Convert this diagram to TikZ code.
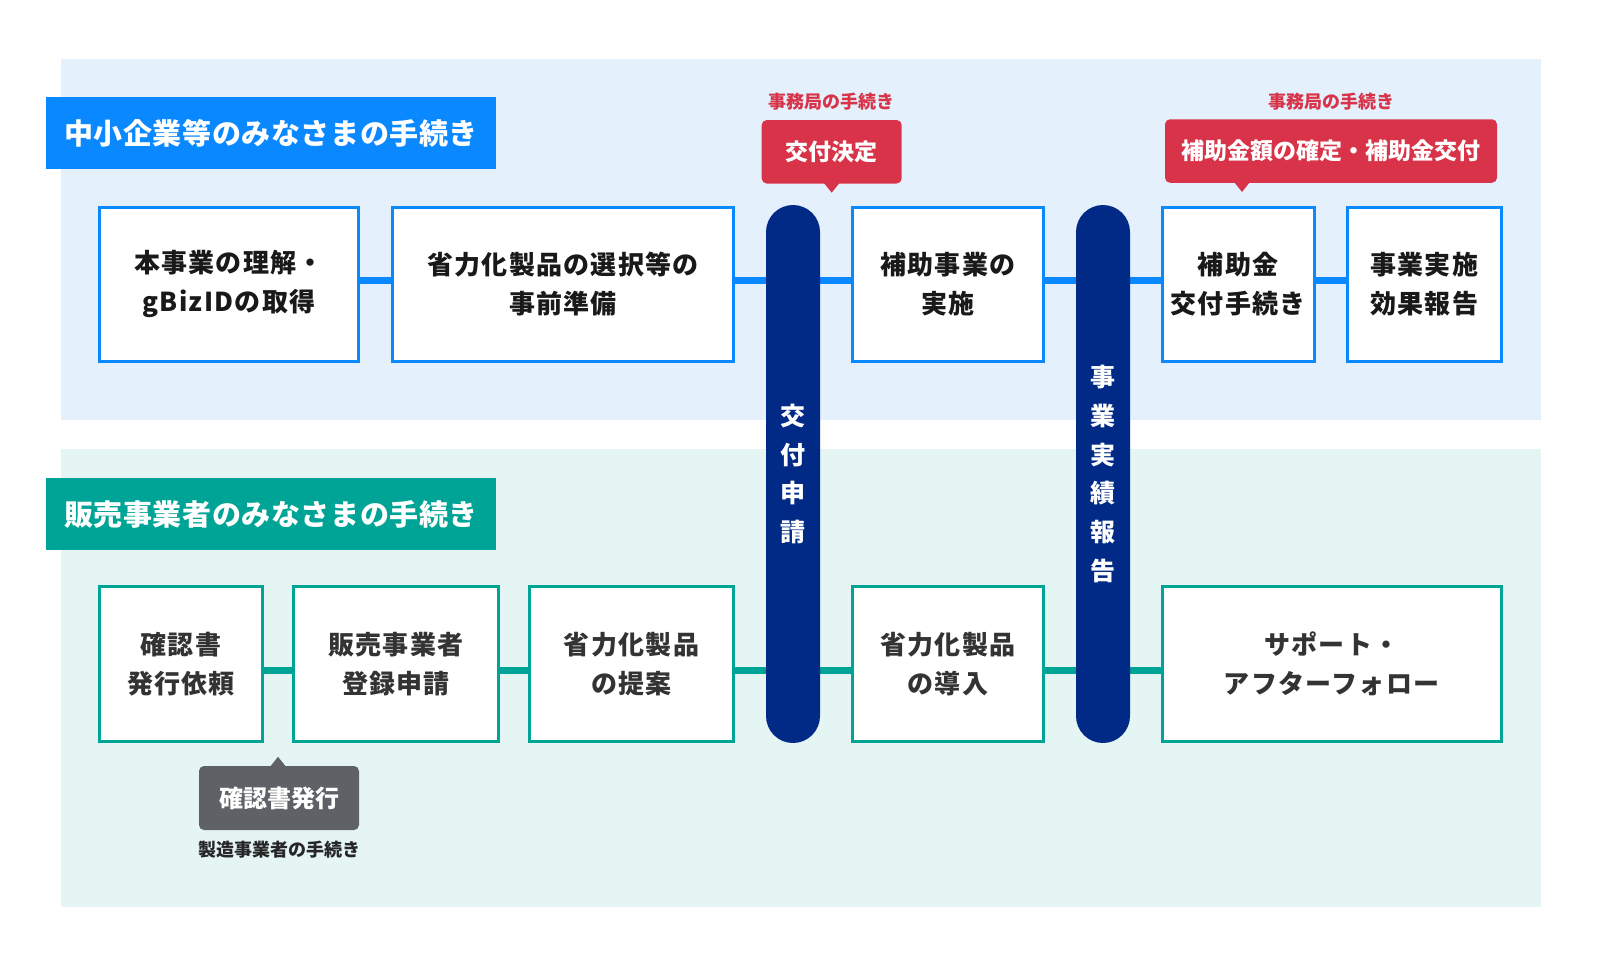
\documentclass[tikz,border=0pt]{standalone}
\usepackage{fontspec}
\setmainfont{Noto Sans CJK JP}
\usetikzlibrary{positioning}
\definecolor{skyblue}{HTML}{E4F1FD}
\definecolor{mintbg}{HTML}{E5F5F4}
\definecolor{topblue}{HTML}{0A88FF}
\definecolor{tealline}{HTML}{00A496}
\definecolor{navy}{HTML}{002A86}
\definecolor{officered}{HTML}{D83348}
\definecolor{makergray}{HTML}{5E6166}
\tikzset{
    node distance=1cm, % Standard distance between nodes
    every node/.style={font=\bfseries},
}

\begin{document}
\begin{tikzpicture}[
    x=1pt, y=-1pt,
    tag/.style={fill=topblue, text=white, minimum width=450pt, minimum height=72pt,
        inner sep=0pt, font=\fontsize{29}{35}\selectfont\bfseries\addfontfeatures{LetterSpace=2}},
    topbox/.style={draw=topblue, line width=3pt, fill=white, minimum height=154pt,
        inner sep=0pt, align=center, text=black!90,
        font=\fontsize{26}{38.5}\selectfont\bfseries\addfontfeatures{LetterSpace=5}},
    botbox/.style={topbox, draw=tealline, text=black!80, minimum height=155pt},
    pill/.style={fill=navy, rounded corners=27pt, minimum width=54pt, minimum height=538pt,
        inner sep=0pt, text=white, align=center,
        font=\fontsize{25}{38.7}\selectfont\bfseries},
    deskbox/.style={fill=officered, rounded corners=5pt, text=white, minimum height=63.5pt,
        inner sep=0pt, font=\fontsize{23}{28}\selectfont\bfseries},
    desknote/.style={text=officered, inner sep=0pt, font=\fontsize{18}{22}\selectfont\bfseries},
    makerbox/.style={deskbox, fill=makergray, minimum height=64pt,
        font=\fontsize{24}{28}\selectfont\bfseries},
    makernote/.style={desknote, text=black!85},
    topline/.style={draw=topblue, line width=7pt},
    botline/.style={draw=tealline, line width=7pt},
]
    \useasboundingbox (0,0) rectangle (1600,967);
    \fill[white] (0,0) rectangle (1600,967);

    % --- Panels ---
    \fill[skyblue] (60.7,59) rectangle (1540.7,420);
    \fill[mintbg] (60.7,449) rectangle (1540.7,907);

    \node[tag] (tagsme) at (271,133) {中小企業等のみなさまの手続き};
    \node[tag, fill=tealline] (tagseller) at (271,514) {販売事業者のみなさまの手続き};

    % --- Top row ---
    \node[topbox, minimum width=259pt] (t1) at (229,284) {本事業の理解・\\gBizIDの取得};
    \node[topbox, minimum width=341pt] (t2) at (563,284) {省力化製品の選択等の\\事前準備};
    \node[topbox, minimum width=191.5pt] (t3) at (947.75,284) {補助事業の\\実施};
    \node[topbox, minimum width=152.5pt] (t4) at (1238.25,284) {補助金\\交付手続き};
    \node[topbox, minimum width=154.5pt] (t5) at (1424.25,284) {事業実施\\効果報告};

    % --- Bottom row ---
    \node[botbox, minimum width=163pt] (b1) at (181,664) {確認書\\発行依頼};
    \node[botbox, minimum width=205pt] (b2) at (396,664) {販売事業者\\登録申請};
    \node[botbox, minimum width=204pt] (b3) at (631.5,664) {省力化製品\\の提案};
    \node[botbox, minimum width=191.5pt] (b4) at (947.75,664) {省力化製品\\の導入};
    \node[botbox, minimum width=339.5pt] (b5) at (1331.75,664) {サポート・\\アフターフォロー};

    % --- Connectors ---
    \path[topline]
        ([yshift=3.5pt]t1.east) edge ([yshift=3.5pt]t2.west)
        ([yshift=3.5pt]t2.east) edge ([yshift=3.5pt]t3.west)
        ([yshift=3.5pt]t3.east) edge ([yshift=3.5pt]t4.west)
        ([yshift=3.5pt]t4.east) edge ([yshift=3.5pt]t5.west);
    \path[botline]
        ([yshift=-6pt]b1.east) edge ([yshift=-6pt]b2.west)
        ([yshift=-6pt]b2.east) edge ([yshift=-6pt]b3.west)
        ([yshift=-6pt]b3.east) edge ([yshift=-6pt]b4.west)
        ([yshift=-6pt]b4.east) edge ([yshift=-6pt]b5.west);

    % --- Milestones ---
    \node[pill] (p1) at (793,474) {交\\付\\申\\請};
    \node[pill] (p2) at (1103,474) {事\\業\\実\\績\\報\\告};

    % --- Callouts ---
    \node[deskbox, minimum width=140pt] (d1) at (831.7,151.75) {交付決定};
    \fill[officered] ([xshift=-8pt,yshift=1pt]d1.south) -- ([xshift=8pt,yshift=1pt]d1.south)
        -- ([yshift=-9pt]d1.south) -- cycle;
    \node[desknote] (n1) [above=9pt of d1] {事務局の手続き};

    \node[deskbox, minimum width=332pt] (d2) at (1331,151) {補助金額の確定・補助金交付};
    \fill[officered] ([xshift=-97pt,yshift=1pt]d2.south) -- ([xshift=-81pt,yshift=1pt]d2.south)
        -- ([xshift=-89pt,yshift=-9pt]d2.south) -- cycle;
    \node[desknote] (n2) [above=9pt of d2] {事務局の手続き};

    \node[makerbox, minimum width=160pt] (g1) at (279,798) {確認書発行};
    \fill[makergray] ([xshift=-9pt,yshift=-1pt]g1.north) -- ([xshift=7pt,yshift=-1pt]g1.north)
        -- ([xshift=-1pt,yshift=9pt]g1.north) -- cycle;
    \node[makernote] (n3) [below=11pt of g1] {製造事業者の手続き};

\end{tikzpicture}
\end{document}
